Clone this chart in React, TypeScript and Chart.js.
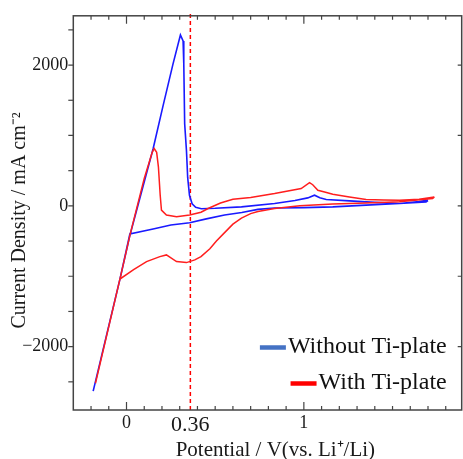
import React, { useEffect, useRef } from "react";
import { Chart, registerables } from "chart.js";

Chart.register(...registerables);

// Without Ti-plate (blue): cathodic scan, steep drop, anodic return
const blueV = [1.70, 1.689, 1.539, 1.351, 1.163, 1.0, 0.835, 0.741, 0.65, 0.553, 0.45, 0.356, 0.25, 0.15, 0.019,
  -0.037, -0.188,
  -0.037, 0.019, 0.15, 0.206, 0.262, 0.304, 0.319, 0.323, 0.328, 0.338, 0.345, 0.355, 0.37, 0.39, 0.422, 0.5, 0.648, 0.835, 0.95, 1.022, 1.06, 1.09, 1.126, 1.257, 1.4, 1.539, 1.65, 1.70];
const blueI = [75, 57, 34, 10, -14, -25, -30, -50, -95, -131, -185, -240, -272, -330, -400,
  -1040, -2631,
  -1040, -420, 812, 1420, 2014, 2428, 2343, 2014, 1165, 788, 400, 150, 30, -20, -40, -35, -14, 34, 75, 113, 151, 115, 90, 71, 50, 34, 60, 81];

// With Ti-plate (red)
const redV = [1.736, 1.726, 1.539, 1.351, 1.163, 0.977, 0.835, 0.741, 0.7, 0.648, 0.6, 0.553, 0.507, 0.47, 0.42, 0.385, 0.338, 0.282, 0.225, 0.188, 0.113, 0.04, -0.037,
  -0.175,
  -0.037, 0.019, 0.1, 0.145, 0.156, 0.17, 0.18, 0.19, 0.197, 0.225, 0.282, 0.356, 0.42, 0.46, 0.53, 0.6, 0.7, 0.835, 0.985, 1.032, 1.05, 1.079, 1.117, 1.163, 1.257, 1.351, 1.45, 1.539, 1.65, 1.736];
const redI = [127, 105, 57, 42, 25, 0, -37, -80, -110, -175, -260, -380, -500, -610, -722, -768, -806, -792, -697, -721, -792, -905, -1040,
  -2520,
  -1040, -420, 390, 760, 815, 760, 550, 150, -61, -131, -155, -131, -90, -37, 40, 95, 120, 175, 246, 330, 300, 222, 198, 165, 127, 90, 85, 81, 95, 127];

const markerV = [0.36, 0.36];
const markerI = [-2900, 2760];

const xTickLabels = [0, 0.36, 1];
const yTickLabels = [-2000, 0, 2000];
const xMinorStep = 0.1;
const yMinorStep = 500;

const seriesNames = ["Without Ti-plate", "With Ti-plate"];

const SERIF = "'Liberation Serif', 'Times New Roman', serif";

const toPts = (xs: number[], ys: number[]) => xs.map((x, i) => ({ x, y: ys[i] }));

const framePlugin = {
  id: "frameAndLegend",
  afterDraw(chart: any) {
    const { ctx, chartArea } = chart;
    const xs = chart.scales.x;
    const ys = chart.scales.y;
    const { left, right, top, bottom } = chartArea;
    ctx.save();
    ctx.strokeStyle = "#444";
    ctx.lineWidth = 1.5;
    ctx.strokeRect(left, top, right - left, bottom - top);
    ctx.lineWidth = 1.2;
    // x ticks (bottom & top, inward)
    for (let v = -0.3; v <= xs.max + 1e-9; v += xMinorStep) {
      const vv = Math.round(v * 10) / 10;
      const px = xs.getPixelForValue(vv);
      if (px < left + 1 || px > right - 1) continue;
      const major = Math.abs(vv) < 1e-9 || Math.abs(vv - 1) < 1e-9;
      const len = major ? 8 : 4;
      ctx.beginPath();
      ctx.moveTo(px, bottom);
      ctx.lineTo(px, bottom - len);
      ctx.moveTo(px, top);
      ctx.lineTo(px, top + len);
      ctx.stroke();
    }
    // y ticks (left outward, right inward)
    for (let v = -2500; v <= ys.max; v += yMinorStep) {
      const py = ys.getPixelForValue(v);
      ctx.beginPath();
      ctx.moveTo(left, py);
      ctx.lineTo(left - 5, py);
      if (v % 1000 === 0) {
        ctx.moveTo(right, py);
        ctx.lineTo(right - 4, py);
      }
      ctx.stroke();
    }
    // legend
    const colors = ["#4472c4", "#ff0000"];
    const rowsY = [bottom - 63, bottom - 27];
    const textRight = right - 15;
    ctx.font = `24px ${SERIF}`;
    ctx.textAlign = "right";
    ctx.textBaseline = "middle";
    seriesNames.forEach((name, i) => {
      const w = ctx.measureText(name).width;
      const tl = textRight - w;
      ctx.strokeStyle = colors[i];
      ctx.lineWidth = 4.5;
      ctx.beginPath();
      ctx.moveTo(tl - 28, rowsY[i] + 0.5);
      ctx.lineTo(tl - 2, rowsY[i] + 0.5);
      ctx.stroke();
      ctx.fillStyle = "#111";
      ctx.fillText(name, textRight, rowsY[i]);
    });
    ctx.restore();
  },
};

export default function App() {
  const ref = useRef<HTMLCanvasElement | null>(null);
  useEffect(() => {
    if (!ref.current) return;
    const chart = new Chart(ref.current, {
      type: "line",
      data: {
        datasets: [
          {
            label: seriesNames[0],
            data: toPts(blueV, blueI),
            borderColor: "#1a1aff",
            borderWidth: 1.6,
            pointRadius: 0,
            tension: 0,
            order: 1,
          },
          {
            label: seriesNames[1],
            data: toPts(redV, redI),
            borderColor: "#ff1e1e",
            borderWidth: 1.5,
            pointRadius: 0,
            tension: 0,
            order: 0,
          },
          {
            label: "marker",
            data: toPts(markerV, markerI),
            borderColor: "#ff0000",
            borderWidth: 1.5,
            borderDash: [4, 3],
            pointRadius: 0,
            clip: false,
            order: 2,
          },
        ],
      },
      options: {
        responsive: false,
        animation: false,
        devicePixelRatio: 1,
        layout: { padding: { left: 0, top: 15, right: 1.3, bottom: 0 } },
        plugins: { legend: { display: false }, tooltip: { enabled: false } },
        scales: {
          x: {
            type: "linear",
            min: -0.3,
            max: 1.89,
            grid: { display: false, drawTicks: false },
            border: { display: false },
            afterBuildTicks: (s: any) => {
              s.ticks = xTickLabels.map((value) => ({ value }));
            },
            afterFit: (s: any) => {
              s.height = 49;
            },
            ticks: {
              autoSkip: false,
              maxRotation: 0,
              padding: 2,
              color: "#1a1a1a",
              font: (c: any) => ({ family: SERIF, size: c.tick && c.tick.value === 0.36 ? 22 : 18 }),
              callback: (v: any) => String(v),
            },
            title: {
              display: true,
              text: "\u00A0\u00A0\u00A0Potential / V(vs. Li⁺/Li)",
              color: "#1a1a1a",
              font: { family: SERIF, size: 21, lineHeight: 0.85 },
              padding: { top: 0, bottom: 0 },
            },
          },
          y: {
            type: "linear",
            min: -2900,
            max: 2700,
            grid: { display: false, drawTicks: false },
            border: { display: false },
            afterBuildTicks: (s: any) => {
              s.ticks = yTickLabels.map((value) => ({ value }));
            },
            afterFit: (s: any) => {
              s.width = 73.3;
            },
            ticks: {
              autoSkip: false,
              padding: 5,
              color: "#1a1a1a",
              font: { family: SERIF, size: 18 },
              callback: (v: any) => (v < 0 ? "−" + Math.abs(v) : String(v)),
            },
            title: {
              display: true,
              text: "Current Density / mA cm⁻²\u00A0\u00A0\u00A0",
              color: "#1a1a1a",
              font: { family: SERIF, size: 20, lineHeight: 1.2 },
              padding: { top: 8, bottom: 0 },
            },
          },
        },
      },
      plugins: [framePlugin],
    });
    return () => chart.destroy();
  }, []);
  return (
    <div style={{ position: "fixed", left: 0, top: 0, width: 463, height: 459, background: "#fff" }}>
      <canvas ref={ref} width={463} height={459} style={{ display: "block" }} />
    </div>
  );
}
